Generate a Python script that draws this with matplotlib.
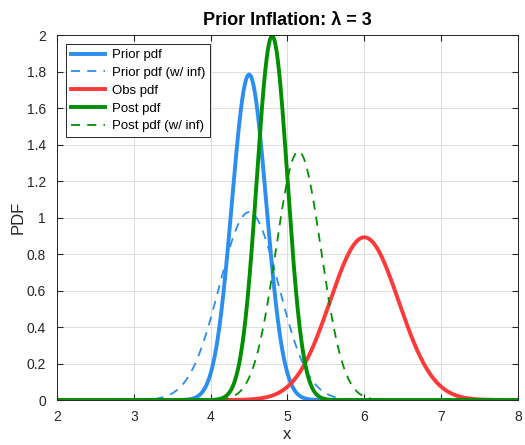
import numpy as np
import matplotlib.pyplot as plt

plt.rcParams['font.family'] = ['Liberation Sans', 'DejaVu Sans']

# distribution parameters
prior_mean = 4.5
prior_var = 0.05
obs_mean = 6.0
obs_var = 0.2
inflation = 3.0

x_ticks = [2, 3, 4, 5, 6, 7, 8]
y_ticks = [0, 0.2, 0.4, 0.6, 0.8, 1, 1.2, 1.4, 1.6, 1.8, 2]


def gauss(x, m, v):
    return np.exp(-(x - m) ** 2 / (2 * v)) / np.sqrt(2 * np.pi * v)


def posterior(pm, pv, om, ov):
    v = 1.0 / (1.0 / pv + 1.0 / ov)
    m = v * (pm / pv + om / ov)
    return m, v


x = np.linspace(2, 8, 1201)
post_m, post_v = posterior(prior_mean, prior_var, obs_mean, obs_var)
posti_m, posti_v = posterior(prior_mean, prior_var * inflation, obs_mean, obs_var)

blue = '#2b8ef0'
red = '#ff3838'
green = '#009000'

fig = plt.figure(figsize=(5.25, 4.45), dpi=100)
ax = fig.add_axes([0.1086, 0.101, 0.878, 0.820])
ax.plot(x, gauss(x, prior_mean, prior_var), color=blue, lw=2.8, label='Prior pdf')
ax.plot(x, gauss(x, prior_mean, prior_var * inflation), color=blue, lw=1.3,
        ls=(0, (5, 4)), label='Prior pdf (w/ inf)')
ax.plot(x, gauss(x, obs_mean, obs_var), color=red, lw=2.8, label='Obs pdf')
ax.plot(x, gauss(x, post_m, post_v), color=green, lw=2.8, label='Post pdf')
ax.plot(x, gauss(x, posti_m, posti_v), color=green, lw=1.3,
        ls=(0, (5, 4)), label='Post pdf (w/ inf)')

ax.set_xlim(2, 8)
ax.set_ylim(0, 2)
ax.set_xticks(x_ticks)
ax.set_yticks(y_ticks)
ax.set_yticklabels([f'{t:g}' for t in y_ticks])
ax.grid(True, color='#dcdcdc', lw=0.7)
ax.set_axisbelow(True)
ax.tick_params(direction='in', length=4, labelsize=10, colors='#262626', top=True, right=True)
ax.tick_params(axis='x', pad=7)
ax.tick_params(axis='y', pad=8)
for s in ax.spines.values():
    s.set_color('#262626')
    s.set_linewidth(0.7)
ax.set_xlabel('x', fontsize=12, color='#262626', labelpad=2)
ax.set_ylabel('PDF', fontsize=12, color='#262626', labelpad=1)
ax.set_title('Prior Inflation: λ = 3', fontsize=13, fontweight='bold', pad=7)
leg = ax.legend(loc='upper left', fontsize=9.5, fancybox=False, framealpha=1,
                edgecolor='#262626', handlelength=2.6, handletextpad=0.5, borderpad=0.35,
                labelspacing=0.42, borderaxespad=0.7)
leg.get_frame().set_linewidth(0.7)

fig.savefig('out.png', dpi=100)
